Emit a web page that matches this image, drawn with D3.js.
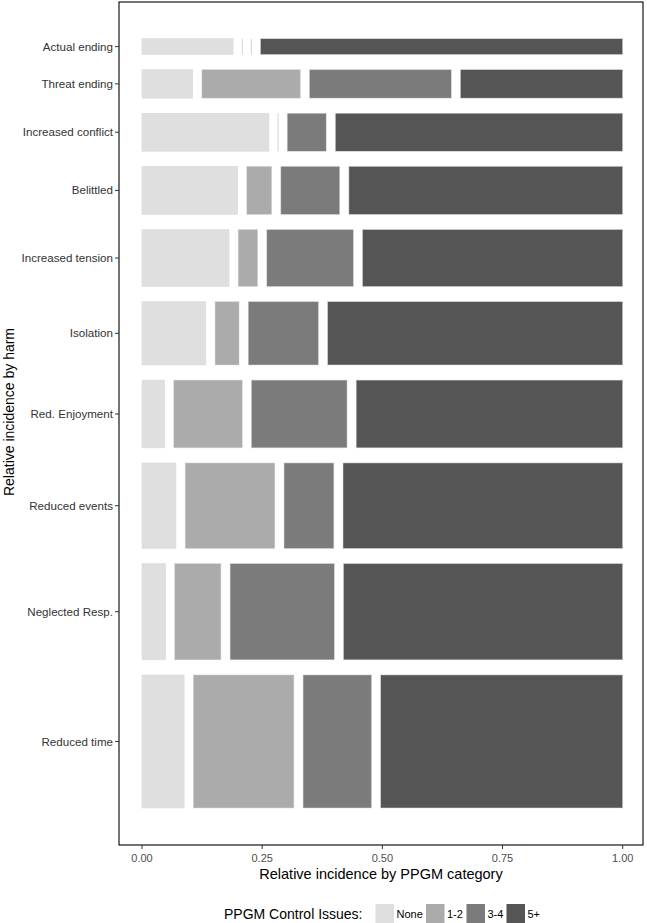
<!doctype html>
<html>
  <head>
    <meta charset="utf-8">
    <script src="https://cdnjs.cloudflare.com/ajax/libs/d3/7.8.5/d3.min.js"></script>
    <style>
      body { margin: 0; background: #fff; }
      svg { display: block; font-family: "Liberation Sans", Arial, sans-serif; }
    </style>
  </head>
  <body>
    <svg id="chart" width="647" height="923"></svg>
  <script>
      // harms, top to bottom
      var harms = ["Actual ending", "Threat ending", "Increased conflict", "Belittled",
                   "Increased tension", "Isolation", "Red. Enjoyment", "Reduced events",
                   "Neglected Resp.", "Reduced time"];
      // relative incidence of each harm (row height share)
      var harmShare = [0.025, 0.045, 0.060, 0.076, 0.090, 0.100, 0.107, 0.135, 0.152, 0.210];

      var categories = ["None", "1-2", "3-4", "5+"];
      var colors = ["#dfdfdf", "#ababab", "#7b7b7b", "#555555"];

      // share of each PPGM category within each harm
      var noneShare  = [0.201, 0.112, 0.280, 0.211, 0.192, 0.141, 0.050, 0.075, 0.052, 0.093];
      var oneTwo     = [0.000, 0.217, 0.000, 0.055, 0.043, 0.053, 0.151, 0.198, 0.102, 0.222];
      var threeFour  = [0.000, 0.313, 0.086, 0.130, 0.191, 0.155, 0.211, 0.110, 0.230, 0.151];
      var fivePlus   = [0.799, 0.358, 0.634, 0.604, 0.574, 0.651, 0.588, 0.617, 0.616, 0.534];
      var series = [noneShare, oneTwo, threeFour, fivePlus];

      var xTicks = [0, 0.25, 0.5, 0.75, 1];
      var gapX = 0.019, gapY = 0.0196;

      var svg = d3.select("#chart");
      var panel = {left: 119, right: 643, top: 2, bottom: 845};

      var x = d3.scaleLinear().domain([0, 1]).range([142, 622.7]);
      var y = d3.scaleLinear().domain([0, 1]).range([808, 38.7]);

      // build mosaic cells, rows stacked from the bottom
      var availY = 1 - gapY * (harms.length - 1);
      var availX = 1 - gapX * (categories.length - 1);
      var cells = [], rows = [];
      var y0 = 0;
      for (var i = harms.length - 1; i >= 0; i--) {
        var h = harmShare[i] * availY;
        rows.push({name: harms[i], y0: y0, y1: y0 + h});
        var x0 = 0;
        series.forEach(function(s, j) {
          var w = s[i] * availX;
          cells.push({harm: harms[i], cat: j, x0: x0, x1: x0 + w, y0: y0, y1: y0 + h});
          x0 += w + gapX;
        });
        y0 += h + gapY;
      }

      // panel border
      svg.append("rect")
          .attr("x", panel.left).attr("y", panel.top)
          .attr("width", panel.right - panel.left).attr("height", panel.bottom - panel.top)
          .style("fill", "none").style("stroke", "#000").style("stroke-width", 1.1);

      var g = svg.append("g");
      g.selectAll("rect.cell")
        .data(cells.filter(d => d.x1 - d.x0 > 0))
        .enter().append("rect")
          .attr("class", "cell")
          .attr("x", d => x(d.x0))
          .attr("y", d => y(d.y1))
          .attr("width", d => x(d.x1) - x(d.x0))
          .attr("height", d => y(d.y0) - y(d.y1))
          .style("fill", d => colors[d.cat])
          .style("stroke", "#d8d8d8")
          .style("stroke-width", 0.5);

      // empty cells show as thin lines
      g.selectAll("line.empty")
        .data(cells.filter(d => d.x1 - d.x0 <= 0))
        .enter().append("line")
          .attr("x1", d => x(d.x0)).attr("x2", d => x(d.x0))
          .attr("y1", d => y(d.y1)).attr("y2", d => y(d.y0))
          .style("stroke", "#d4d4d4")
          .style("stroke-width", 1);

      // y axis labels at row centers
      var yAxis = svg.append("g");
      rows.forEach(function(r) {
        var cy = y((r.y0 + r.y1) / 2);
        yAxis.append("line")
          .attr("x1", panel.left - 4).attr("x2", panel.left)
          .attr("y1", cy).attr("y2", cy)
          .style("stroke", "#333").style("stroke-width", 1);
        yAxis.append("text")
          .attr("x", panel.left - 6).attr("y", cy)
          .attr("dy", "0.35em")
          .attr("text-anchor", "end")
          .style("font-size", "11.6px").style("fill", "#333")
          .text(r.name);
      });

      // x axis
      var xAxis = svg.append("g");
      xTicks.forEach(function(t) {
        xAxis.append("line")
          .attr("x1", x(t)).attr("x2", x(t))
          .attr("y1", panel.bottom).attr("y2", panel.bottom + 4)
          .style("stroke", "#333");
        xAxis.append("text")
          .attr("x", x(t)).attr("y", panel.bottom + 13)
          .attr("dy", "0.35em")
          .attr("text-anchor", "middle")
          .style("font-size", "11px").style("fill", "#4d4d4d")
          .text(d3.format(".2f")(t));
      });

      svg.append("text")
        .attr("x", (panel.left + panel.right) / 2).attr("y", 874)
        .attr("dy", "0.35em").attr("text-anchor", "middle")
        .style("font-size", "14.5px").style("fill", "#000")
        .text("Relative incidence by PPGM category");

      svg.append("text")
        .attr("transform", "translate(9,412) rotate(-90)")
        .attr("dy", "0.35em").attr("text-anchor", "middle")
        .style("font-size", "14px").style("fill", "#000")
        .text("Relative incidence by harm");

      // legend
      var legend = svg.append("g");
      legend.append("text")
        .attr("x", 224).attr("y", 914).attr("dy", "0.35em")
        .style("font-size", "14px").style("fill", "#000")
        .text("PPGM Control Issues:");
      var keyX = [375.5, 426, 466.5, 506.5];
      categories.forEach(function(c, j) {
        legend.append("rect")
          .attr("x", keyX[j]).attr("y", 904)
          .attr("width", 18.5).attr("height", 19)
          .style("fill", colors[j]);
        legend.append("text")
          .attr("x", keyX[j] + 21).attr("y", 914).attr("dy", "0.35em")
          .style("font-size", "11px").style("fill", "#000")
          .text(c);
      });
  </script>
  </body>
</html>
